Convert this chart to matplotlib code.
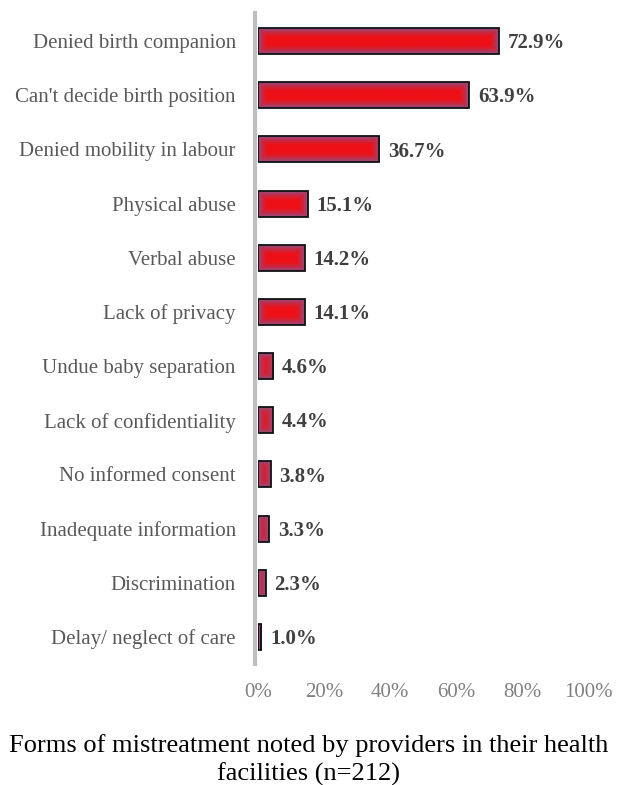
import numpy as np
import matplotlib
matplotlib.use("Agg")
import matplotlib.pyplot as plt
from matplotlib.colors import to_rgb

plt.rcParams["font.family"] = ["Liberation Serif", "DejaVu Serif"]

categories = ["Denied birth companion", "Can't decide birth position", "Denied mobility in labour",
              "Physical abuse", "Verbal abuse", "Lack of privacy", "Undue baby separation",
              "Lack of confidentiality", "No informed consent", "Inadequate information",
              "Discrimination", "Delay/ neglect of care"]
values = [72.9, 63.9, 36.7, 15.1, 14.2, 14.1, 4.6, 4.4, 3.8, 3.3, 2.3, 1.0]
xticks = [0, 20, 40, 60, 80, 100]
xtick_labels = ["0%", "20%", "40%", "60%", "80%", "100%"]
title = "Forms of mistreatment noted by providers in their health\nfacilities (n=212)"

W, H, DPI = 617, 785, 100
fig = plt.figure(figsize=(W / DPI, H / DPI), dpi=DPI)
left, right = 258 / W, 588 / W
top, bottom = 13 / H, 664 / H
ax = fig.add_axes([left, 1 - bottom, right - left, bottom - top])

n = len(categories)
ypos = np.arange(n)
bar_h = 0.48
ax.set_xlim(0, 100)
ax.set_ylim(n - 1 + 0.5, -0.52)

red = np.array(to_rgb("#EE1016"))
purple = np.array(to_rgb("#7A5C9C"))

fig.canvas.draw()
px_per_x = ax.transData.transform((1, 0))[0] - ax.transData.transform((0, 0))[0]
px_per_y = abs(ax.transData.transform((0, 1))[1] - ax.transData.transform((0, 0))[1])

bars = ax.barh(ypos, values, height=bar_h, color="none", edgecolor="#111111", linewidth=1.3, zorder=3)
for b, v, y in zip(bars, values, ypos):
    wpx = max(v * px_per_x, 1)
    hpx = bar_h * px_per_y
    nx = max(int(wpx * 2), 2)
    ny = int(hpx * 2)
    xs = (np.arange(nx) + 0.5) / nx * wpx
    ys = (np.arange(ny) + 0.5) / ny * hpx
    X, Y = np.meshgrid(xs, ys)
    d = np.minimum(np.minimum(X, wpx - X), np.minimum(Y, hpx - Y))
    t = np.clip(d / 9.0, 0, 1) ** 0.6
    img = purple[None, None, :] * (1 - t[..., None]) + red[None, None, :] * t[..., None]
    im = ax.imshow(img, extent=(0, v, y + bar_h / 2, y - bar_h / 2), aspect="auto",
                   interpolation="bilinear", zorder=2)
    im.set_clip_path(b)
    ax.text(v + 2.7, y + 0.04, f"{v:.1f}%", va="center", ha="left", fontsize=15, fontweight="bold",
            color="#404040", zorder=4)

ax.set_xlim(0, 100)
ax.set_ylim(n - 1 + 0.5, -0.52)
ax.set_yticks(ypos)
ax.set_yticklabels(categories)
ax.set_xticks(xticks)
ax.set_xticklabels(xtick_labels)
ax.tick_params(axis="both", length=0)
ax.tick_params(axis="y", pad=14, labelsize=15, labelcolor="#595959")
ax.tick_params(axis="x", pad=14, labelsize=15, labelcolor="#808080")
for s in ["top", "right", "bottom"]:
    ax.spines[s].set_visible(False)
ax.spines["left"].set_color("#BFBFBF")
ax.spines["left"].set_linewidth(3)
ax.spines["left"].set_position(("outward", 2))

fig.text(0.5, 1 - 760 / H, title, ha="center", va="center", fontsize=19,
         color="#000000", linespacing=1.3)

fig.savefig("out.png", dpi=DPI)
